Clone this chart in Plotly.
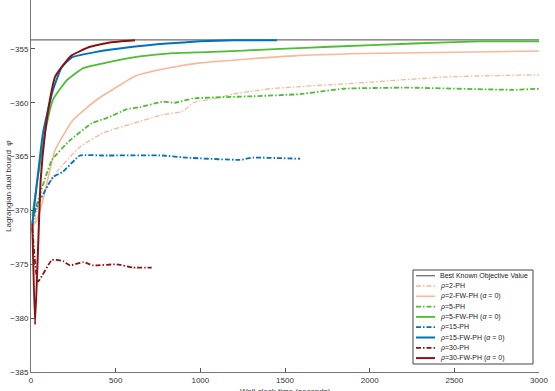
import plotly.graph_objects as go

best_known = -354.17
x_range = [0, 3000]

t_2ph = [8, 53, 153, 289, 425, 585, 780, 898, 957, 1116, 1193, 1411, 1589, 1902, 2457, 3000]
v_2ph = [-371.8, -369.0, -366.4, -364.1, -362.8, -362.0, -361.1, -360.8, -360.0, -359.5, -359.2, -358.7, -358.5, -358.2, -357.6, -357.4]

t_2fw = [8, 30, 71, 142, 248, 390, 620, 803, 998, 1589, 2061, 3000]
v_2fw = [-371.5, -371.0, -369.0, -364.4, -361.6, -359.7, -357.5, -356.8, -356.3, -355.6, -355.4, -355.2]

t_5ph = [8, 24, 124, 230, 360, 449, 567, 644, 780, 850, 957, 1311, 1589, 1843, 2220, 2846, 3000]
v_5ph = [-371.5, -370.0, -365.3, -363.5, -361.9, -361.4, -360.6, -360.4, -359.9, -360.0, -359.6, -359.4, -359.2, -358.7, -358.6, -358.8, -358.7]

t_5fw = [8, 30, 94, 130, 212, 307, 466, 644, 839, 1039, 1470, 1766, 2256, 2652, 3000]
v_5fw = [-370.5, -368.0, -361.9, -359.7, -357.9, -356.8, -356.2, -355.7, -355.4, -355.3, -355.0, -354.8, -354.5, -354.3, -354.3]

t_15ph = [8, 24, 130, 189, 289, 425, 780, 921, 1234, 1311, 1589]
v_15ph = [-371.2, -370.0, -366.9, -366.4, -364.9, -364.9, -364.9, -365.1, -365.3, -365.1, -365.2]

t_15fw = [8, 24, 71, 130, 181, 240, 378, 602, 803, 998, 1200, 1453]
v_15fw = [-371.2, -369.0, -362.8, -358.8, -356.7, -355.8, -355.3, -354.8, -354.5, -354.3, -354.2, -354.2]

t_30ph = [8, 41, 124, 190, 230, 310, 368, 507, 604, 713]
v_30ph = [-371.6, -376.6, -374.6, -374.7, -375.1, -374.8, -375.1, -375.0, -375.3, -375.3]

t_30fw = [8, 24, 57, 83, 112, 142, 181, 240, 348, 466, 614]
v_30fw = [-371.2, -380.6, -367.2, -362.8, -359.7, -357.6, -356.7, -355.6, -354.8, -354.4, -354.2]

salmon = "#F9B797"
green = "#4DBD33"
blue = "#0072BD"
dred = "#8B1212"
gray = "#6E6E6E"
dd = "5px,2px,1.5px,2px"

series = [
    ([x_range[0], x_range[1]], [best_known, best_known], gray, "solid", 1.3, "Best Known Objective Value"),
    (t_2ph, v_2ph, salmon, dd, 1.3, "<i>ρ</i>=2-PH"),
    (t_2fw, v_2fw, salmon, "solid", 1.6, "<i>ρ</i>=2-FW-PH (<i>α</i> = 0)"),
    (t_5ph, v_5ph, green, dd, 1.8, "<i>ρ</i>=5-PH"),
    (t_5fw, v_5fw, green, "solid", 1.8, "<i>ρ</i>=5-FW-PH (<i>α</i> = 0)"),
    (t_15ph, v_15ph, blue, dd, 1.8, "<i>ρ</i>=15-PH"),
    (t_15fw, v_15fw, blue, "solid", 2.0, "<i>ρ</i>=15-FW-PH (<i>α</i> = 0)"),
    (t_30ph, v_30ph, dred, dd, 1.8, "<i>ρ</i>=30-PH"),
    (t_30fw, v_30fw, dred, "solid", 2.0, "<i>ρ</i>=30-FW-PH (<i>α</i> = 0)"),
]

fig = go.Figure()
for t, v, c, d, w, n in series:
    fig.add_trace(go.Scatter(x=t, y=v, mode="lines", name=n,
                             line=dict(color=c, dash=d, width=w, shape="spline", smoothing=0.4)))

W, H = 555, 391
ML, MR, MT, MB = 31, 16, 0, 19
PW, PH = W - ML - MR, H - MT - MB

def px(xp):
    return (xp - ML) / PW

def py(yp):
    return (H - MB - yp) / PH

fam = "Liberation Sans, Arial, sans-serif"
axis_font = dict(family=fam, size=8, color="#333333")

# compact legend drawn as shapes + text (plotly's legend rows can't be this tight)
shapes = [dict(type="rect", xref="paper", yref="paper",
               x0=px(413), x1=px(533), y0=py(364), y1=py(270),
               line=dict(color="#444444", width=1), fillcolor="white", layer="above")]
annotations = []
for i, (t, v, c, d, w, n) in enumerate(series):
    ry = 275.7 + i * 10.3
    shapes.append(dict(type="line", xref="paper", yref="paper",
                       x0=px(416), x1=px(435), y0=py(ry), y1=py(ry),
                       line=dict(color=c, dash=d, width=w), layer="above"))
    annotations.append(dict(text=n, xref="paper", yref="paper", x=px(437.5), y=py(ry),
                            xanchor="left", yanchor="middle", showarrow=False,
                            font=dict(family=fam, size=7, color="#222222")))

annotations += [
    dict(text="Lagrangian dual bound  <i>φ</i>", xref="paper", yref="paper", x=px(8), y=py(186),
         xanchor="center", yanchor="middle", textangle=-90, showarrow=False,
         font=dict(family=fam, size=8, color="#333333")),
    dict(text="Wall clock time (seconds)", xref="paper", yref="paper", x=0.5, y=py(385),
         xanchor="center", yanchor="top", showarrow=False,
         font=dict(family=fam, size=8, color="#333333")),
]

fig.update_layout(
    width=W, height=H,
    margin=dict(l=ML, r=MR, t=MT, b=MB, autoexpand=False),
    plot_bgcolor="white", paper_bgcolor="white",
    font=axis_font,
    showlegend=False,
    xaxis=dict(range=x_range, tickvals=[0, 500, 1000, 1500, 2000, 2500, 3000],
               ticks="inside", ticklen=4, tickcolor="#555555", showline=True, linecolor="#777777",
               linewidth=1, showgrid=False, zeroline=False, tickfont=axis_font, automargin=False),
    yaxis=dict(range=[-385, -350.46], tickvals=[-385, -380, -375, -370, -365, -360, -355],
               ticks="inside", ticklen=4, tickcolor="#555555", showline=True, linecolor="#777777",
               linewidth=1, showgrid=False, zeroline=False, tickfont=axis_font, automargin=False),
    shapes=shapes,
    annotations=annotations,
)
fig.write_html("out.html")
